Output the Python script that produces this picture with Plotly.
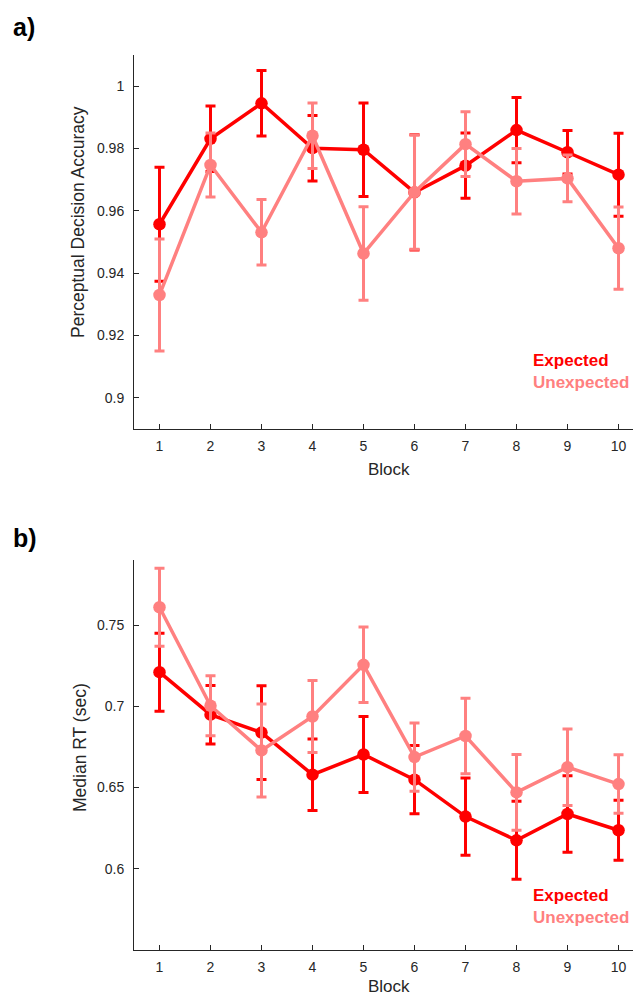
import plotly.graph_objects as go

blocks = [1, 2, 3, 4, 5, 6, 7, 8, 9, 10]
tick_labels_x = ["1", "2", "3", "4", "5", "6", "7", "8", "9", "10"]

# Panel a) Perceptual decision accuracy
acc_expected = [0.9557, 0.9831, 0.9945, 0.9801, 0.9796, 0.9659, 0.9745, 0.9859, 0.9788, 0.9716]
acc_expected_err = [0.0183, 0.0105, 0.0105, 0.0105, 0.0150, 0.0185, 0.0105, 0.0105, 0.0070, 0.0133]
acc_unexpected = [0.9330, 0.9747, 0.9531, 0.9841, 0.9463, 0.9660, 0.9814, 0.9695, 0.9704, 0.9480]
acc_unexpected_err = [0.0180, 0.0103, 0.0105, 0.0105, 0.0150, 0.0183, 0.0104, 0.0105, 0.0075, 0.0132]
acc_ticks = [0.9, 0.92, 0.94, 0.96, 0.98, 1.0]
acc_tick_labels = ["0.9", "0.92", "0.94", "0.96", "0.98", "1"]

# Panel b) Median RT
rt_expected = [0.7210, 0.6948, 0.6838, 0.6579, 0.6703, 0.6548, 0.6321, 0.6175, 0.6337, 0.6237]
rt_expected_err = [0.0240, 0.0180, 0.0288, 0.0220, 0.0234, 0.0210, 0.0238, 0.0240, 0.0235, 0.0184]
rt_unexpected = [0.7609, 0.7003, 0.6728, 0.6937, 0.7255, 0.6687, 0.6817, 0.6470, 0.6625, 0.6521]
rt_unexpected_err = [0.0240, 0.0185, 0.0286, 0.0222, 0.0232, 0.0210, 0.0233, 0.0233, 0.0235, 0.0180]
rt_ticks = [0.6, 0.65, 0.7, 0.75]
rt_tick_labels = ["0.6", "0.65", "0.7", "0.75"]

RED = "#FF0000"
PINK = "#FF8080"
AXC = "#262626"
FONT = "Liberation Sans, Arial, sans-serif"
W, H = 633, 998


def px_x(p):
    return p / W


def px_y(p):
    return 1 - p / H


fig = go.Figure()


def add_series(y, err, color, xa, ya, name):
    fig.add_trace(go.Scatter(
        x=blocks, y=y, name=name, mode="lines+markers",
        xaxis=xa, yaxis=ya,
        line=dict(color=color, width=3.5),
        marker=dict(color=color, size=12.5),
        error_y=dict(type="data", array=err, color=color, thickness=3, width=5),
        showlegend=False,
    ))


add_series(acc_expected, acc_expected_err, RED, "x", "y", "Expected")
add_series(acc_unexpected, acc_unexpected_err, PINK, "x", "y", "Unexpected")
add_series(rt_expected, rt_expected_err, RED, "x2", "y2", "Expected")
add_series(rt_unexpected, rt_unexpected_err, PINK, "x2", "y2", "Unexpected")

x_dom = [px_x(134), 1.0]
xcommon = dict(
    range=[0.5, 10.284], tickmode="array", tickvals=blocks, ticktext=tick_labels_x,
    showline=True, linecolor=AXC, linewidth=1, ticks="inside", ticklen=5,
    tickcolor=AXC, tickwidth=1, showgrid=False, zeroline=False,
    tickfont=dict(family=FONT, size=14, color=AXC), domain=x_dom,
    ticklabelstandoff=4,
)
ycommon = dict(
    showline=True, linecolor=AXC, linewidth=1, ticks="inside", ticklen=5,
    tickcolor=AXC, tickwidth=1, showgrid=False, zeroline=False,
    tickfont=dict(family=FONT, size=14, color=AXC), tickmode="array",
    ticklabelstandoff=6,
)

fig.update_layout(
    width=W, height=H,
    margin=dict(l=0, r=0, t=0, b=0),
    paper_bgcolor="white", plot_bgcolor="white",
    xaxis=dict(**xcommon, anchor="y"),
    yaxis=dict(**ycommon, range=[0.89, 1.01], tickvals=acc_ticks, ticktext=acc_tick_labels,
               domain=[px_y(429), px_y(55)], anchor="x"),
    xaxis2=dict(**xcommon, anchor="y2"),
    yaxis2=dict(**ycommon, range=[0.55, 0.79], tickvals=rt_ticks, ticktext=rt_tick_labels,
                domain=[px_y(950), px_y(560)], anchor="x2"),
)

ann = []


def text(x, y, s, size, color=AXC, bold=False, xanchor="center", angle=0):
    ann.append(dict(
        x=px_x(x), y=px_y(y), xref="paper", yref="paper", text=("<b>%s</b>" % s) if bold else s,
        showarrow=False, xanchor=xanchor, yanchor="middle", textangle=angle,
        font=dict(family=FONT, size=size, color=color),
    ))


text(11, 27, "a)", 25, color="black", bold=True, xanchor="left")
text(11, 538, "b)", 25, color="black", bold=True, xanchor="left")
text(531, 360, "Expected", 17, color=RED, bold=True, xanchor="left")
text(531, 382, "Unexpected", 17, color=PINK, bold=True, xanchor="left")
text(531, 895, "Expected", 17, color=RED, bold=True, xanchor="left")
text(531, 917, "Unexpected", 17, color=PINK, bold=True, xanchor="left")
text(78, 222, "Perceptual Decision Accuracy", 17.5, angle=-90)
text(80, 748, "Median RT (sec)", 17.5, angle=-90)
text(389, 469, "Block", 17)
text(389, 986, "Block", 17)

fig.update_layout(annotations=ann)

fig.write_html(
    "out.html",
    config={"displayModeBar": False},
    post_script="document.body.style.margin='0';document.body.style.overflow='hidden';",
)
